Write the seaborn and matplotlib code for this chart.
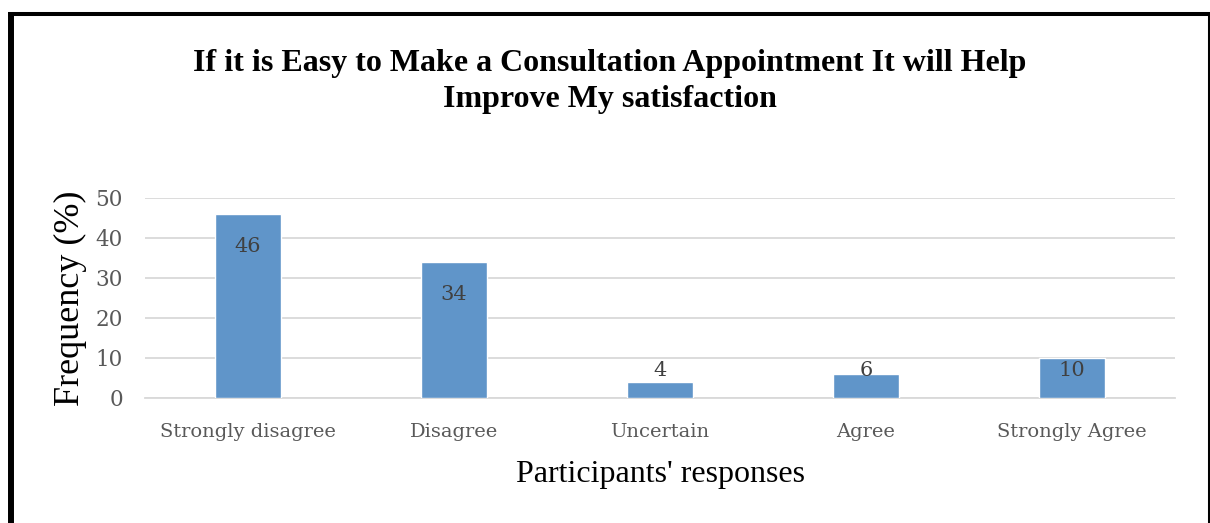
import matplotlib
matplotlib.use("Agg")
import matplotlib.pyplot as plt
import seaborn as sns
import pandas as pd
from matplotlib.lines import Line2D

categories = ["Strongly disagree", "Disagree", "Uncertain", "Agree", "Strongly Agree"]
values = [46, 34, 4, 6, 10]
yticks = [0, 10, 20, 30, 40, 50]
title = "If it is Easy to Make a Consultation Appointment It will Help\nImprove My satisfaction"
xlabel = "Participants' responses"
ylabel = "Frequency (%)"

sns.set_theme(style="white")
plt.rcParams['font.family'] = ['DejaVu Serif']

W, H = 1210, 523
fig = plt.figure(figsize=(W / 100, H / 100), dpi=100)
ax = fig.add_axes([145 / W, 1 - 398 / H, (1175 - 145) / W, (398 - 198) / H])

df = pd.DataFrame({"cat": categories, "val": values})
sns.barplot(data=df, x="cat", y="val", color="#6095C9", width=0.316, ax=ax,
            saturation=1, zorder=3)

ax.set_xlim(-0.5, len(categories) - 0.5)
ax.set_ylim(0, 50)
ax.set_yticks(yticks)
ax.yaxis.grid(True, color="#d9d9d9", linewidth=1.3, zorder=0)
ax.set_axisbelow(True)
for s in ["top", "right", "left"]:
    ax.spines[s].set_visible(False)
ax.spines["bottom"].set_color("#d9d9d9")
ax.spines["bottom"].set_linewidth(1.3)
ax.tick_params(axis="both", length=0, labelcolor="#595959")
ax.tick_params(axis="x", labelsize=14, pad=18)
ax.tick_params(axis="y", labelsize=15.5, pad=16)

for i, v in enumerate(values):
    ax.text(i, max(v - 8, 6.75), str(v), ha="center", va="center",
            fontsize=15, color="#404040", family="DejaVu Serif", zorder=4)

ax.set_xlabel(xlabel, family="Liberation Serif", fontsize=23, color="black", labelpad=14)
ax.set_ylabel(ylabel, family="Liberation Serif", fontsize=26, color="black", labelpad=6)

fig.text(0.504, 1 - 81.5 / H, title, ha="center", va="center", family="Liberation Serif",
         fontweight="bold", fontsize=23, linespacing=1.31, color="black")

# figure frame
fig.add_artist(Line2D([11 / W, 11 / W], [1 - 13 / H, 0], color="black", lw=4.3,
                      transform=fig.transFigure, solid_capstyle="butt"))
fig.add_artist(Line2D([8 / W, 1210 / W], [1 - 13.5 / H, 1 - 13.5 / H], color="black", lw=2.9,
                      transform=fig.transFigure, solid_capstyle="butt"))
fig.add_artist(Line2D([1208.7 / W, 1208.7 / W], [1 - 12 / H, 0], color="black", lw=2.2,
                      transform=fig.transFigure, solid_capstyle="butt"))

fig.savefig("out.png", dpi=100)
